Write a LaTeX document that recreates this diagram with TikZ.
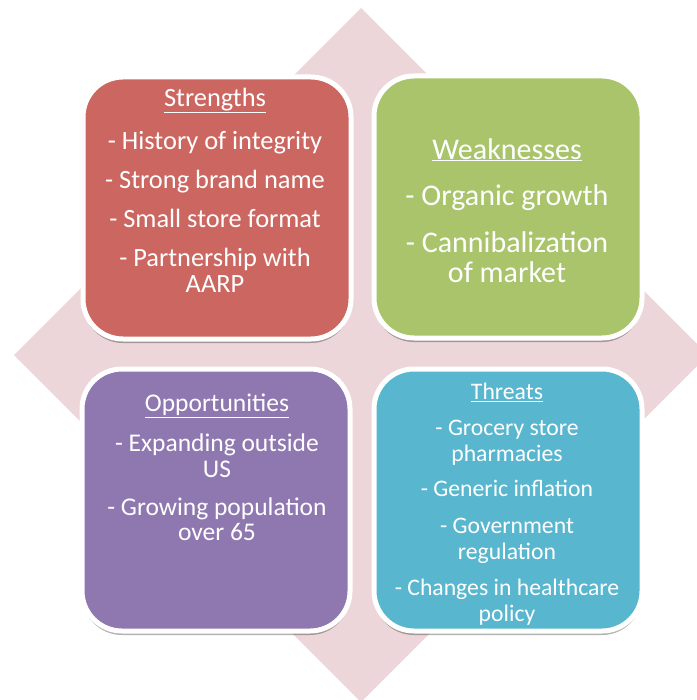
\documentclass[tikz,border=0pt]{standalone}
\usepackage{fontspec}
\setmainfont{Carlito}
\usepackage{tikz}
\usetikzlibrary{shadows,positioning}
\definecolor{swotred}{RGB}{204,102,96}
\definecolor{swotgreen}{RGB}{169,196,106}
\definecolor{swotpurple}{RGB}{143,120,176}
\definecolor{swotcyan}{RGB}{88,182,206}
\definecolor{swotpink}{RGB}{236,214,217}
\tikzset{
  swotbox/.style={draw=white, line width=5pt, rounded corners=40pt,
    minimum width=268pt, minimum height=262pt, inner sep=0pt,
    drop shadow={shadow xshift=0pt, shadow yshift=-4pt, opacity=0.3, fill=black}},
  swottext/.style={anchor=north, align=center, text=white, inner sep=0pt}
}

\begin{document}
\begin{tikzpicture}[x=1pt,y=-1pt]
\useasboundingbox (0,0) rectangle (696,700);
\fill[swotpink] (361,8) -- (708,355) -- (361,702) -- (14,355) -- cycle;

\node[swotbox, fill=swotred] (str) at (217,208) {};
\node[swotbox, fill=swotgreen] (wea) at (508,207) {};
\node[swotbox, fill=swotpurple] (opp) at (216,500) {};
\node[swotbox, fill=swotcyan] (thr) at (508,500) {};

\node[swottext, font=\fontsize{26.4}{26.5}\selectfont] (strtext) at (215,88)
  {\underline{Strengths}\\[16pt] - History of integrity\\[12.5pt]
   - Strong brand name\\[12.5pt] - Small store format\\[12.5pt]
   - Partnership with\\ AARP};
\node[swottext, font=\fontsize{30}{30}\selectfont] (weatext) at (507,138)
  {\underline{Weaknesses}\\[16.5pt] - Organic growth\\[16.5pt]
   - Cannibalization\\ of market};
\node[swottext, font=\fontsize{25.5}{25.5}\selectfont] (opptext) at (217,394)
  {\underline{Opportunities}\\[14.5pt] - Expanding outside\\ US\\[12.5pt]
   - Growing population\\ over 65};
\node[swottext, font=\fontsize{23.7}{25.7}\selectfont] (thrtext) at (507,383)
  {\underline{Threats}\\[10pt] - Grocery store\\ pharmacies\\[10pt]
   - Generic inflation\\[11.5pt] - Government\\ regulation\\[10pt]
   - Changes in healthcare\\ policy};
\end{tikzpicture}
\end{document}
